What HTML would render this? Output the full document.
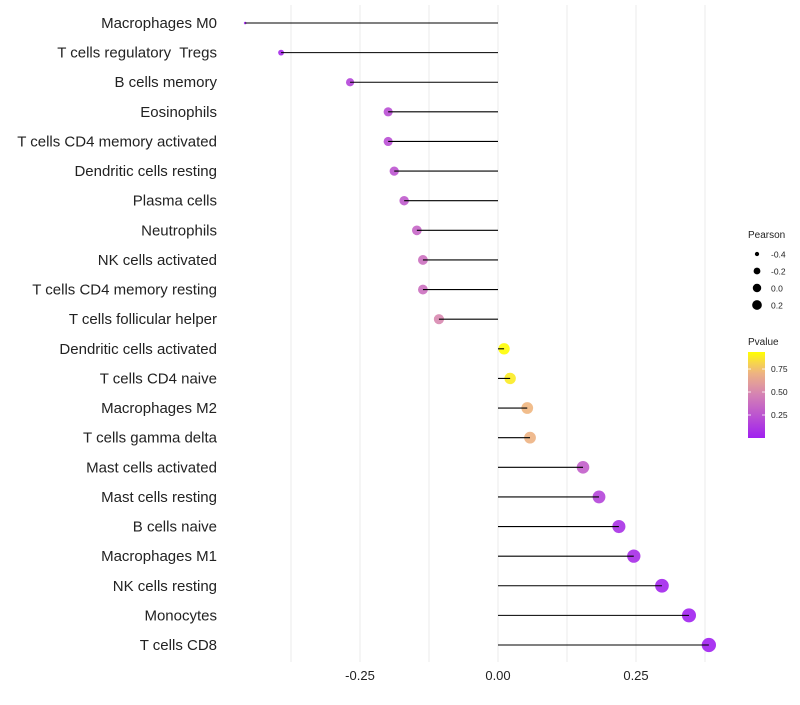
<!DOCTYPE html>
<html><head><meta charset="utf-8"><style>
body{margin:0;background:#fff;font-family:"Liberation Sans",sans-serif}
text{white-space:pre}
</style></head><body>
<svg id="chart" width="800" height="700" xmlns="http://www.w3.org/2000/svg" font-family="Liberation Sans, sans-serif"></svg>
<script>
const categories=["Macrophages M0","T cells regulatory  Tregs","B cells memory","Eosinophils","T cells CD4 memory activated","Dendritic cells resting","Plasma cells","Neutrophils","NK cells activated","T cells CD4 memory resting","T cells follicular helper","Dendritic cells activated","T cells CD4 naive","Macrophages M2","T cells gamma delta","Mast cells activated","Mast cells resting","B cells naive","Macrophages M1","NK cells resting","Monocytes","T cells CD8"];
const pearson=[-0.458,-0.393,-0.268,-0.199,-0.199,-0.188,-0.170,-0.147,-0.136,-0.136,-0.107,0.011,0.022,0.053,0.058,0.154,0.183,0.219,0.246,0.297,0.346,0.382];
const pvalues=[0.01,0.05,0.18,0.22,0.22,0.25,0.28,0.33,0.38,0.38,0.5,0.93,0.88,0.72,0.7,0.3,0.18,0.08,0.06,0.03,0.01,0.005];
const xTicks=[-0.25,0,0.25];
const xTickLabels=["-0.25","0.00","0.25"];
const xMinor=[-0.375,-0.125,0.125,0.375];
const sizeLegend=[-0.4,-0.2,0.0,0.2];
const colorLegend=[0.25,0.5,0.75];

const svg=document.getElementById('chart');
const NS="http://www.w3.org/2000/svg";
function el(t,a,p){const e=document.createElementNS(NS,t);for(const k in a)e.setAttribute(k,a[k]);(p||svg).appendChild(e);return e;}
const x=v=>498+v*552;
const y=i=>23+i*(622/(categories.length-1));
const pmin=Math.min(...pearson),pmax=Math.max(...pearson);
const r=v=>{const t=Math.max(0,(v-pmin)/(pmax-pmin));return 1.3*(1+4.5*Math.sqrt(t));};
function lerp(a,b,t){return a.map((c,i)=>Math.round(c+(b[i]-c)*t));}
const stops=[[0,[160,32,240]],[0.5,[216,136,176]],[0.75,[242,188,120]],[0.935,[255,255,0]]];
function col(p){p=Math.max(0,Math.min(0.935,p));
 for(let k=1;k<stops.length;k++){if(p<=stops[k][0]){const t=(p-stops[k-1][0])/(stops[k][0]-stops[k-1][0]);return `rgb(${lerp(stops[k-1][1],stops[k][1],t)})`;}}
 return 'rgb(255,255,0)';}

[...xTicks,...xMinor].forEach(v=>{const g=el('line',{x1:x(v),x2:x(v),y1:5,y2:662,stroke:'#ebebeb','stroke-width':1});

});
xTicks.forEach((v,i)=>{const t=el('text',{x:x(v),y:680,'text-anchor':'middle','font-size':13,fill:'#222'});t.textContent=xTickLabels[i];

});

categories.forEach((c,i)=>{
 const t=el('text',{x:217,y:y(i)+5,'text-anchor':'end','font-size':15,fill:'#222'});t.textContent=c;
 
 
 const d=el('circle',{cx:x(pearson[i]),cy:y(i),r:r(pearson[i]),fill:col(pvalues[i]),'fill-opacity':0.9});
 
 
 const l=el('line',{x1:x(0),x2:x(pearson[i]),y1:y(i),y2:y(i),stroke:'#000','stroke-width':1.1});
 
 
});

const lt=el('text',{x:748,y:238,'font-size':10,fill:'#222'});lt.textContent='Pearson';


sizeLegend.forEach((v,i)=>{const cy=254+i*17;
 const c=el('circle',{cx:757,cy:cy,r:r(v)*0.75,fill:'#000'});
 
 
 const t=el('text',{x:771,y:cy+3.5,'font-size':8.5,fill:'#222'});t.textContent=v.toFixed(1);
 
 });

const ct=el('text',{x:748,y:345,'font-size':10,fill:'#222'});ct.textContent='Pvalue';


const defs=el('defs',{});const lg=el('linearGradient',{id:'pg',x1:0,y1:1,x2:0,y2:0},defs);
[0,0.125,0.25,0.375,0.5,0.625,0.75,0.875,1].forEach(s=>el('stop',{offset:s,'stop-color':col(s*0.935)},lg));
const bar=el('rect',{x:748,y:352,width:17,height:86,fill:'url(#pg)'});


colorLegend.forEach(v=>{const yy=438-v/0.935*86;
 el('line',{x1:748,x2:751,y1:yy,y2:yy,stroke:'#fff','stroke-width':0.8});
 el('line',{x1:762,x2:765,y1:yy,y2:yy,stroke:'#fff','stroke-width':0.8});
 const t=el('text',{x:771,y:yy+3,'font-size':8.5,fill:'#222'});t.textContent=v.toFixed(2);
 
 });
</script>
</body></html>
